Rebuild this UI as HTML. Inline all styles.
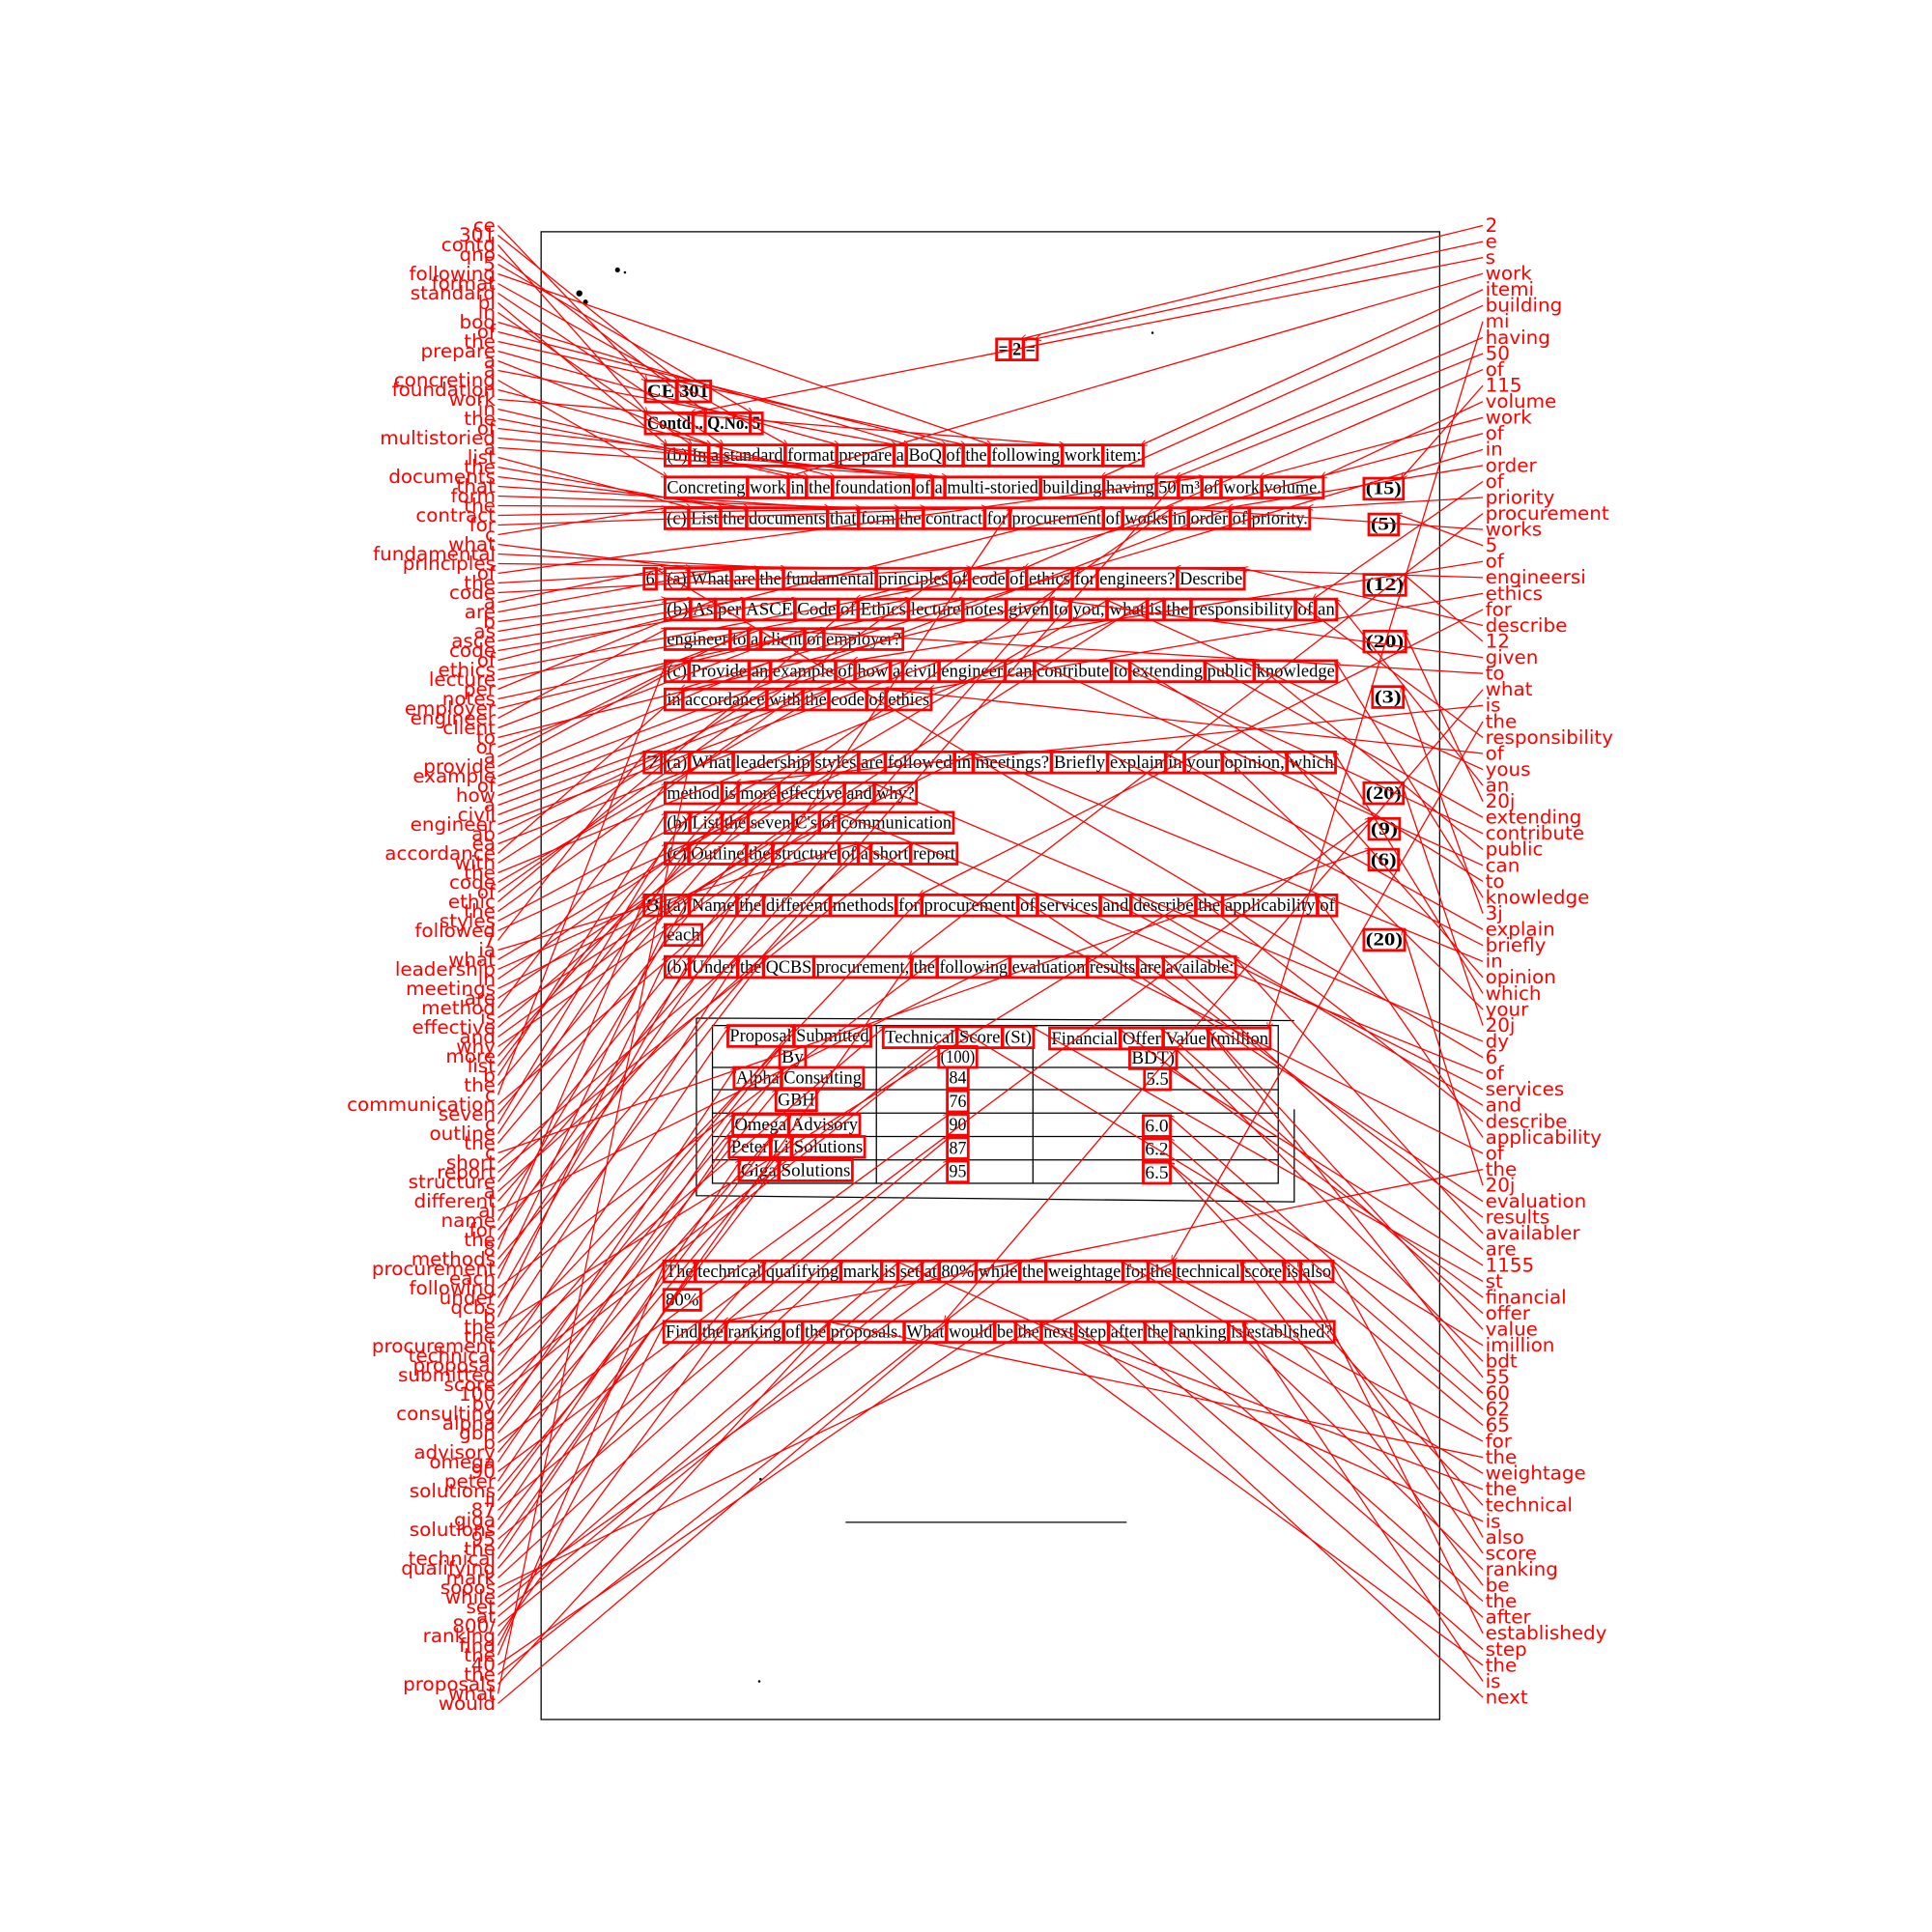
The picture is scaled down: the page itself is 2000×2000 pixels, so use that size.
<!DOCTYPE html>
<html><head><meta charset="utf-8"><style>
html,body{margin:0;padding:0;background:#fff;width:2000px;height:2000px;overflow:hidden}
.doc{font-family:"Liberation Serif",serif;fill:#000}
.lbl{font-family:"DejaVu Sans",sans-serif;font-size:15.6px;fill:#f00}
</style></head><body>
<svg id="chart" width="2000" height="2000" viewBox="0 0 2000 2000" xmlns="http://www.w3.org/2000/svg">
<defs><marker id="ah" viewBox="0 0 10 10" refX="9" refY="5" markerWidth="5" markerHeight="5" orient="auto"><path d="M0,0 L10,5 L0,10" fill="none" stroke="#f00" stroke-width="1.5"/></marker></defs>
<g id="root" transform="scale(1.276)">
<rect x="439" y="188" width="729" height="1207" fill="none" stroke="#000" stroke-width="1"/>
<g id="table" stroke="#000" fill="none" stroke-width="1">
<path d="M565,826 L1050,828 M565,826 L565,970 L1050,975 L1050,900"/>
<rect x="578" y="832" width="459" height="128"/>
<path d="M711,832V960 M838,832V960 M578,866H1037 M578,884H1037 M578,903H1037 M578,922H1037 M578,941H1037"/>
</g>
<line x1="686" y1="1235" x2="914" y2="1235" stroke="#000" stroke-width="1"/>
<g fill="#000"><circle cx="501" cy="219" r="2"/><circle cx="507" cy="221" r="1"/><circle cx="470" cy="238" r="2.5"/><circle cx="475" cy="245" r="2"/><circle cx="935" cy="270" r="1"/><circle cx="617" cy="1200" r="1"/><circle cx="616" cy="1364" r="1"/></g>
<g id="docg"></g><g id="boxg"></g><g id="lineg"></g><g id="lblg"></g>
</g>
</svg>
<script>
// document lines: [x0, x1, baselineY, text, bold]
const docLines = [
[810,840,288,"= 2 =",1],
[525,575,322,"CE 301",1],
[525,617,348,"Contd .. Q.No. 5",1],
[541,926,374,"(b) In a standard format prepare a BoQ of the following work item:",0],
[541,1072,400,"Concreting work in the foundation of a multi-storied building having 50 m³ of work volume.",0],
[1108,1137,401,"(15)",1],
[541,1061,425,"(c) List the documents that form the contract for procurement of works in order of priority.",0],
[1112,1133,430,"(5)",1],
[524,531,474,"6",0],
[541,1008,474,"(a) What are the fundamental principles of code of ethics for engineers? Describe",0],
[1108,1139,479,"(12)",1],
[541,1083,499,"(b) As per ASCE Code of Ethics lecture notes given to you, what is the responsibility of an",0],
[541,731,523,"engineer to a client or employer?",0],
[1108,1139,525,"(20)",1],
[541,1083,549,"(c) Provide an example of how a civil engineer can contribute to extending public knowledge",0],
[541,754,572,"in accordance with the code of ethics",0],
[1115,1137,570,"(3)",1],
[524,535,623,"7",0],
[541,1082,623,"(a) What leadership styles are followed in meetings? Briefly explain in your opinion, which",0],
[541,742,648,"method is more effective and why?",0],
[1108,1137,648,"(20)",1],
[541,772,672,"(b) List the seven C's of communication",0],
[1112,1134,677,"(9)",1],
[541,775,697,"(c) Outline the structure of a short report",0],
[1112,1133,702,"(6)",1],
[524,535,739,"8",0],
[541,1083,739,"(a) Name the different methods for procurement of services and describe the applicability of",0],
[541,568,763,"each",0],
[1108,1138,767,"(20)",1],
[541,1001,789,"(b) Under the QCBS procurement, the following evaluation results are available:",0],
[592,705,845,"Proposal Submitted",0],
[634,652,862,"By",0],
[718,837,846,"Technical Score (St)",0],
[763,791,862,"(100)",0],
[853,1029,847,"Financial Offer Value (million",0],
[918,953,863,"BDT)",0],
[597,699,879,"Alpha Consulting",0],
[770,784,879,"84",0],
[930,948,880,"5.5",0],
[631,661,897,"GBH",0],
[770,784,898,"76",0],
[596,696,917,"Omega Advisory",0],
[770,784,917,"90",0],
[929,948,918,"6.0",0],
[593,700,935,"Peter Li Solutions",0],
[770,784,936,"87",0],
[929,948,937,"6.2",0],
[601,690,954,"Giga Solutions",0],
[770,784,955,"95",0],
[929,948,956,"6.5",0],
[540,1080,1036,"The technical qualifying mark is set at 80% while the weightage for the technical score is also",0],
[540,567,1059,"80%",0],
[540,1081,1085,"Find the ranking of the proposals. What would be the next step after the ranking is established?",0]
];
const leftLabels = ["ce","301","contd","qno","5","following","format","standard","bl","in","boq","of","the","prepare","a","a","concreting","foundation","work","in","the","of","multistoried","a","list","the","documents","that","form","the","contract","for","c","what","fundamental","principles","of","the","code","a","are","b","as","asce","code","of","ethics","lecture","per","notes","employer","engineer","client","to","or","a","provide","example","of","how","a","civil","engineer","ab","ea","accordance","with","the","code","of","ethic","the","styles","followed","7","ia","what","leadership","in","meetings","are","method","is","effective","and","why","more","list","b","the","c","communication","seven","c","outline","the","c","short","report","structure","a","different","al","name","for","the","8","methods","procurement","each","following","under","qcbs","b","the","the","procurement","technical","proposal","submitted","score","100","by","consulting","alpha","gbh","b","advisory","omega","90","peter","solutions","li","87","giga","solutions","95","the","technical","qualifying","mark","sooos","while","set","at","800/","ranking","find","the","40","the","proposals","what","would"];
const rightLabels = ["2","e","s","work","itemi","building","mi","having","50","of","115","volume","work","of","in","order","of","priority","procurement","works","5","of","engineersi","ethics","for","describe","12","given","to","what","is","the","responsibility","of","yous","an","20j","extending","contribute","public","can","to","knowledge","3j","explain","briefly","in","opinion","which","your","20j","dy","6","of","services","and","describe","applicability","of","the","20j","evaluation","results","availabler","are","1155","st","financial","offer","value","imillion","bdt","55","60","62","65","for","the","weightage","the","technical","is","also","score","ranking","be","the","after","establishedy","step","the","is","next"];

const NS="http://www.w3.org/2000/svg";
const FS=14.5;
const docg=document.getElementById('docg'),boxg=document.getElementById('boxg'),lineg=document.getElementById('lineg'),lblg=document.getElementById('lblg');
const words=[];
const meas=document.createElementNS(NS,'text');meas.setAttribute('class','doc');meas.setAttribute('font-size',FS);docg.appendChild(meas);
function w(t,b){meas.setAttribute('font-weight',b?'bold':'normal');meas.textContent=t;return meas.getComputedTextLength();}
docLines.forEach(function(L){
  const parts=L[3].split(' ');const sp=w('a a',L[4])-w('aa',L[4]);
  const ws=parts.map(p=>w(p,L[4]));const tot=ws.reduce((a,b)=>a+b,0)+sp*(parts.length-1);
  const k=(L[1]-L[0])/tot;let x=L[0];
  parts.forEach(function(p,i){
    const ww=ws[i]*k;
    const t=document.createElementNS(NS,'text');
    
    
    t.setAttribute('class','doc');t.setAttribute('x',x);t.setAttribute('y',L[2]);t.setAttribute('font-size',FS);
    if(L[4])t.setAttribute('font-weight','bold');
    t.setAttribute('textLength',Math.max(ww,1));t.setAttribute('lengthAdjust','spacingAndGlyphs');t.textContent=p;docg.appendChild(t);
    const r=document.createElementNS(NS,'rect');
    
    
    r.setAttribute('x',x-1.5);r.setAttribute('y',L[2]-13);r.setAttribute('width',ww+3);r.setAttribute('height',17);
    r.setAttribute('fill','none');r.setAttribute('stroke','#f00');r.setAttribute('stroke-width','2.2');boxg.appendChild(r);
    words.push({k:p.toLowerCase().replace(/[^a-z0-9]/g,''),x:x,w:ww,y:L[2]-13,used:false});
    x+=ww+sp*k;
  });
});
docg.removeChild(meas);
function target(lab,i,n){
  const k=lab.replace(/[^a-z0-9]/g,'');
  let c=words.find(o=>!o.used&&o.k===k);
  if(!c)c=words.find(o=>!o.used&&k.length>1&&(o.k.indexOf(k)>=0||k.indexOf(o.k)>=0)&&o.k.length>0);
  if(!c)c=words[Math.min(words.length-1,Math.floor(i/n*words.length))];
  c.used=true;return c;
}
function place(list,side){
  const n=list.length,y0=183,y1=side?1377:1382,step=(y1-y0)/(n-1);
  list.forEach(function(lab,i){
    const y=y0+i*step;
    const t=document.createElementNS(NS,'text');
    
    
    t.setAttribute('class','lbl');t.setAttribute('x',side?1205:402);t.setAttribute('y',y+5);
    t.setAttribute('text-anchor',side?'start':'end');t.textContent=lab;lblg.appendChild(t);
    const c=target(lab,i,n);
    const l=document.createElementNS(NS,'line');
    
    
    l.setAttribute('x1',side?1203:404);l.setAttribute('y1',y);
    l.setAttribute('x2',side?c.x+c.w:c.x);l.setAttribute('y2',c.y);
    l.setAttribute('stroke','#f00');l.setAttribute('stroke-width','1');l.setAttribute('marker-end','url(#ah)');lineg.appendChild(l);
  });
}
place(leftLabels,0);place(rightLabels,1);
</script>
</body></html>
